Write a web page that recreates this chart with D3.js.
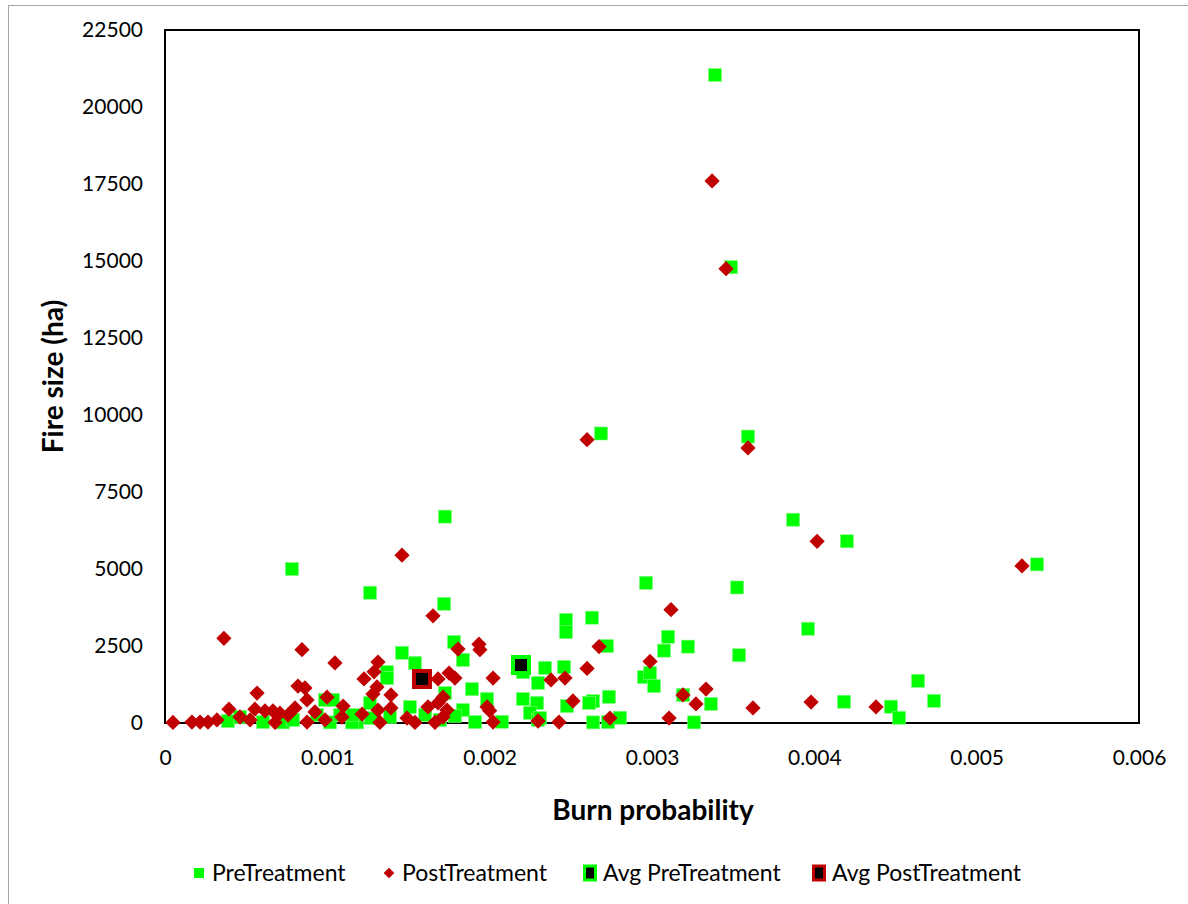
<!DOCTYPE html>
<html>
<head>
<meta charset="utf-8">
<script src="https://cdn.jsdelivr.net/npm/d3@7"></script>
<style>
  body { margin: 0; background: #fff; }
  text { font-family: Lato, "Open Sans", sans-serif; fill: #000; }
</style>
</head>
<body>
<div id="chart"></div>
<script>
// burn probability (x) and fire size in ha (y) for each series
const preX = [0.003388, 0.003487, 0.002686, 0.003591, 0.001725, 0.003869, 0.000782, 0.004201, 0.005372, 0.002963,
  0.001263, 0.003524, 0.001719, 0.003961, 0.002470, 0.002470, 0.002630, 0.001780, 0.001460, 0.001836,
  0.002723, 0.003099, 0.003222, 0.003074, 0.003536, 0.001540, 0.001368, 0.001368, 0.001725, 0.001891,
  0.001984, 0.001836, 0.001509, 0.001263, 0.001183, 0.001386, 0.001910, 0.002076, 0.002205, 0.002292,
  0.002298, 0.002341, 0.002248, 0.002298, 0.002458, 0.002951, 0.002988, 0.003012, 0.002735, 0.002637,
  0.002476, 0.003191, 0.003363, 0.002803, 0.002729, 0.002637, 0.003259, 0.004639, 0.004737, 0.004183,
  0.004472, 0.004522, 0.000986, 0.001035, 0.000388, 0.000462, 0.000604, 0.000727, 0.000789, 0.000936,
  0.001016, 0.001152, 0.001158, 0.002310, 0.002612, 0.001269, 0.001078, 0.001602, 0.001786, 0.001694,
  0.002205];
const preY = [21040, 14800, 9400, 9300, 6700, 6600, 5000, 5900, 5150, 4550,
  4230, 4400, 3870, 3060, 3350, 2950, 3420, 2630, 2280, 2050,
  2500, 2800, 2480, 2350, 2200, 1950, 1650, 1460, 970, 1100,
  780, 420, 520, 650, 20, 200, 30, 40, 780, 650,
  1300, 1790, 330, 100, 1820, 1490, 1620, 1200, 850, 710,
  550, 910, 620, 170, 30, 20, 20, 1370, 720, 690,
  530, 170, 750, 750, 65, 195, 30, 20, 100, 260,
  20, 20, 260, 160, 650, 160, 260, 260, 230, 100,
  1650];

const postX = [0.003370, 0.003456, 0.002600, 0.003591, 0.001460, 0.004017, 0.005279, 0.001651, 0.003117, 0.000363,
  0.000844, 0.001047, 0.001805, 0.001934, 0.001940, 0.002674, 0.002988, 0.002600, 0.001312, 0.001288,
  0.001226, 0.001750, 0.001786, 0.001682, 0.002021, 0.002378, 0.002464, 0.001306, 0.001281, 0.001392,
  0.001392, 0.001312, 0.001214, 0.001713, 0.001682, 0.001737, 0.001620, 0.001713, 0.001984, 0.002000,
  0.002021, 0.001324, 0.001491, 0.001540, 0.001663, 0.002298, 0.002513, 0.003191, 0.003333, 0.003271,
  0.002741, 0.003105, 0.002427, 0.003622, 0.003980, 0.004380, 0.000567, 0.000819, 0.000862, 0.000875,
  0.000998, 0.001097, 0.000394, 0.000554, 0.000616, 0.000665, 0.000708, 0.000801, 0.000462, 0.000524,
  0.000758, 0.000049, 0.000166, 0.000216, 0.000265, 0.000320, 0.000678, 0.000875, 0.000986, 0.001090,
  0.000924];
const postY = [17600, 14750, 9200, 8930, 5450, 5900, 5100, 3480, 3680, 2750,
  2380, 1950, 2400, 2560, 2380, 2480, 2000, 1770, 1980, 1660,
  1430, 1620, 1460, 1430, 1460, 1400, 1460, 1170, 940, 910,
  490, 420, 290, 840, 650, 420, 520, 195, 520, 400,
  30, 20, 160, 20, 20, 65, 714, 910, 1100, 620,
  160, 160, 30, 490, 680, 520, 970, 1200, 1140, 750,
  840, 550, 450, 450, 390, 390, 320, 490, 195, 100,
  260, 20, 30, 30, 30, 100, 20, 30, 100, 195,
  360];

const avgPre = [0.002193, 1883];
const avgPost = [0.001583, 1429];

const xTicks = [0, 0.001, 0.002, 0.003, 0.004, 0.005, 0.006];
const yTicks = [0, 2500, 5000, 7500, 10000, 12500, 15000, 17500, 20000, 22500];

const legendNames = ["PreTreatment", "PostTreatment", "Avg PreTreatment", "Avg PostTreatment"];

function buildScatter() {
  const width = 1188;
  const height = 904;
  const margin = { left: 165, right: 49, top: 30, bottom: 181 };
  const visWidth = width - margin.left - margin.right;
  const visHeight = height - margin.top - margin.bottom;

  const green = "#00ff00";
  const red = "#c00000";

  const svg = d3.select("#chart")
    .append("svg")
    .attr("width", width)
    .attr("height", height);

  // chart border
  svg.append("rect")
    .attr("x", 8.5).attr("y", 5.5)
    .attr("width", 1200).attr("height", 1000)
    .attr("fill", "none")
    .attr("stroke", "#a6a6a6");

  const xScale = d3.scaleLinear().domain([0, 0.006]).range([0, visWidth]);
  const yScale = d3.scaleLinear().domain([0, 22500]).range([visHeight, 0]);

  const plot = svg.append("g")
    .attr("transform", `translate(${margin.left}, ${margin.top})`);

  // axes, labels only
  const xAxis = d3.axisBottom(xScale).tickValues(xTicks).tickSize(0).tickPadding(27)
    .tickFormat((d) => d === 0 ? "0" : d3.format(".3f")(d));
  plot.append("g")
    .attr("transform", `translate(0, ${visHeight})`)
    .call(xAxis)
    .call((g) => g.select(".domain").remove())
    .selectAll("text").style("font-size", "21px").style("font-family", "Lato, sans-serif");

  const yAxis = d3.axisLeft(yScale).tickValues(yTicks).tickSize(0).tickPadding(22)
    .tickFormat(d3.format("d"));
  plot.append("g")
    .call(yAxis)
    .call((g) => g.select(".domain").remove())
    .selectAll("text").style("font-size", "21px").style("font-family", "Lato, sans-serif");

  // plot frame
  plot.append("rect")
    .attr("width", visWidth).attr("height", visHeight)
    .attr("fill", "none")
    .attr("stroke", "#000")
    .attr("stroke-width", 2);

  const pre = preX.map((x, i) => ({ x: x, y: preY[i] }));
  const post = postX.map((x, i) => ({ x: x, y: postY[i] }));

  plot.selectAll(".pre")
    .data(pre)
    .enter()
    .append("rect")
    .attr("class", "pre")
    .attr("x", (d) => xScale(d.x) - 6.5)
    .attr("y", (d) => yScale(d.y) - 6.5)
    .attr("width", 13).attr("height", 13)
    .attr("fill", green)
    .attr("stroke", "#7dff7d")
    .attr("stroke-width", 0.6);

  plot.selectAll(".post")
    .data(post)
    .enter()
    .append("rect")
    .attr("class", "post")
    .attr("x", -5.4).attr("y", -5.4)
    .attr("width", 10.8).attr("height", 10.8)
    .attr("transform", (d) => `translate(${xScale(d.x)}, ${yScale(d.y)}) rotate(45)`)
    .attr("fill", red);

  // average markers
  function avgMarker(g, color) {
    g.append("rect").attr("x", -8).attr("y", -8).attr("width", 16).attr("height", 16)
      .attr("fill", "#000").attr("stroke", color).attr("stroke-width", 4);
  }
  avgMarker(plot.append("g").attr("transform", `translate(${xScale(avgPre[0])}, ${yScale(avgPre[1])})`), green);
  avgMarker(plot.append("g").attr("transform", `translate(${xScale(avgPost[0])}, ${yScale(avgPost[1])})`), red);

  // axis titles
  svg.append("text")
    .attr("x", margin.left + visWidth / 2 + 1).attr("y", 820)
    .attr("text-anchor", "middle")
    .style("font-size", "28px").style("font-weight", "bold")
    .text("Burn probability");

  svg.append("text")
    .attr("transform", `translate(63, ${margin.top + visHeight / 2}) rotate(-90)`)
    .attr("text-anchor", "middle")
    .style("font-size", "28px").style("font-weight", "bold")
    .text("Fire size (ha)");

  // legend
  const legendX = [199, 389, 590, 819];
  const legend = svg.append("g").attr("transform", "translate(0, 873)");
  legendNames.forEach((name, i) => {
    const item = legend.append("g").attr("transform", `translate(${legendX[i]}, 0)`);
    if (i === 0) {
      item.append("rect").attr("x", -5).attr("y", -5).attr("width", 10).attr("height", 10).attr("fill", green);
    } else if (i === 1) {
      item.append("rect").attr("x", -3.8).attr("y", -3.8).attr("width", 7.6).attr("height", 7.6)
        .attr("transform", "rotate(45)").attr("fill", red);
    } else {
      item.append("rect").attr("x", -5.5).attr("y", -7).attr("width", 11).attr("height", 14)
        .attr("fill", "#000").attr("stroke", i === 2 ? green : red).attr("stroke-width", 3);
    }
    item.append("text")
      .attr("x", 13).attr("y", 8)
      .style("font-size", "23px")
      .text(name);
  });
}

window.onload = buildScatter;
</script>
</body>
</html>
